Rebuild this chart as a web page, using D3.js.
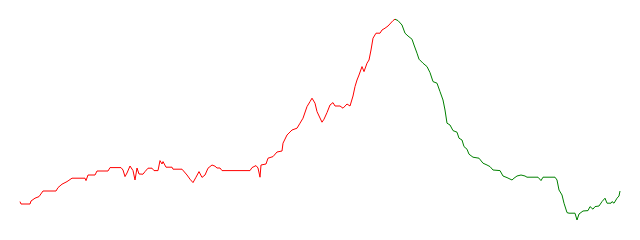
<!DOCTYPE html>
<html>
<head>
<meta charset="utf-8">
<script src="https://cdn.jsdelivr.net/npm/d3@7"></script>
<style>
  body { margin: 0; background: #fff; }
  svg { display: block; }
</style>
</head>
<body>
<div class="chart"></div>
<script>
var svgWidth = 640;
var svgHeight = 240;

// day index and price
var days = [0, 1, 10, 11, 15, 19, 23, 36, 38, 42, 47, 52, 65, 66, 68, 75, 77, 88, 90, 101,
  103, 105, 107, 110, 113, 115, 117, 119, 123, 125, 128, 132, 134, 138, 140, 142, 143, 146, 152, 153,
  162, 167, 170, 173, 176, 179, 182, 185, 188, 192, 195, 197, 200, 202, 230, 232, 236, 238, 240, 241,
  246, 248, 253, 257, 262, 263, 267, 272, 277, 280, 283, 287, 290, 292, 295, 297, 300, 302, 304, 307,
  310, 313, 315, 320, 323, 327, 330, 333, 335, 337, 339, 342, 344, 347, 349, 351, 353, 356, 360, 362,
  365, 368, 373, 375,
  378, 382, 385, 388, 392, 394, 397, 399, 403, 407, 410, 413, 417, 420, 423, 425, 427, 430, 433, 437,
  439, 442, 444, 447, 449, 453, 459, 463, 467, 470, 473, 480, 483, 487, 492, 494, 497, 501, 505, 507,
  518, 521, 523, 535, 537, 539, 542, 544, 547, 549, 555, 557, 559, 563, 568, 570, 573, 575, 579, 582,
  585, 587, 591, 592, 594, 597, 599, 600];
var price = [19.2, 18, 18, 19.5, 20.9, 21.7, 24.5, 24.5, 26.2, 27.9, 29.2, 30.9, 30.9, 29.7, 32.5, 32.5, 34.5, 34.5, 36.2, 36.2,
  35, 31.7, 33.5, 37, 34.7, 30, 36, 33, 32.9, 34.2, 35.9, 35.9, 34.7, 34.7, 39.7, 38, 39.2, 36.4, 36.4, 35.4,
  35.4, 32.5, 30.4, 28.7, 31.4, 34.2, 31.3, 32.5, 35.9, 37.5, 36.9, 36, 36, 34.7, 34.7, 36.2, 37.2, 36, 31.4, 37.5,
  38, 40.9, 41.7, 44, 44.5, 48.4, 52.5, 55, 55.9, 58.4, 60.9, 66.7, 69.2, 70.9, 68.4, 64.2, 61, 58.9, 60.4, 63.7,
  67.5, 68.7, 67, 67, 65.9, 68, 67, 72, 76.7, 80, 82.5, 86.7, 84.2, 88.4, 90, 95, 100.9, 103.4, 103.4, 105,
  105.9, 107, 109.7, 110.4,
  109.7, 107.5, 103.4, 102, 100.4, 97.5, 93.4, 90.4, 88.4, 86.7, 83.7, 79.2, 78.4, 74.2, 70, 65, 58.4, 57.5, 54.7, 53.9,
  50.9, 50, 46.7, 45.4, 42.9, 41.4, 40.9, 38.4, 37.5, 36.7, 35, 34.7, 32, 31.2, 30, 30.9, 32, 32.5, 32, 31.4,
  31.4, 29.7, 31.4, 31.4, 30, 25, 22.5, 18.4, 13.7, 13.4, 13.4, 10, 13, 14.5, 14.7, 16.7, 15.4, 16.7, 17, 19.2,
  20.9, 18.4, 18.4, 19.2, 18.4, 20.9, 22, 24.5];

var peakDay = 375;
var upColor = "red";
var downColor = "green";

var data = days.map(function (d, i) { return { day: d, price: price[i] }; });

var svg = d3.select(".chart")
  .append("svg")
  .attr("width", svgWidth)
  .attr("height", svgHeight);

var xScale = d3.scaleLinear()
  .domain([0, 600])
  .range([20, 620]);

var yScale = d3.scaleLinear()
  .domain([0, 120])
  .range([240, 0]);

var drawLine = d3.line()
  .x(d => xScale(d.day))
  .y(d => yScale(d.price));

svg.append("path")
  .attr("d", drawLine(data.filter(d => d.day <= peakDay)))
  .attr("fill", "none")
  .attr("stroke", upColor)
  .attr("stroke-width", 1);

svg.append("path")
  .attr("d", drawLine(data.filter(d => d.day >= peakDay)))
  .attr("fill", "none")
  .attr("stroke", downColor)
  .attr("stroke-width", 1);
</script>
</body>
</html>
